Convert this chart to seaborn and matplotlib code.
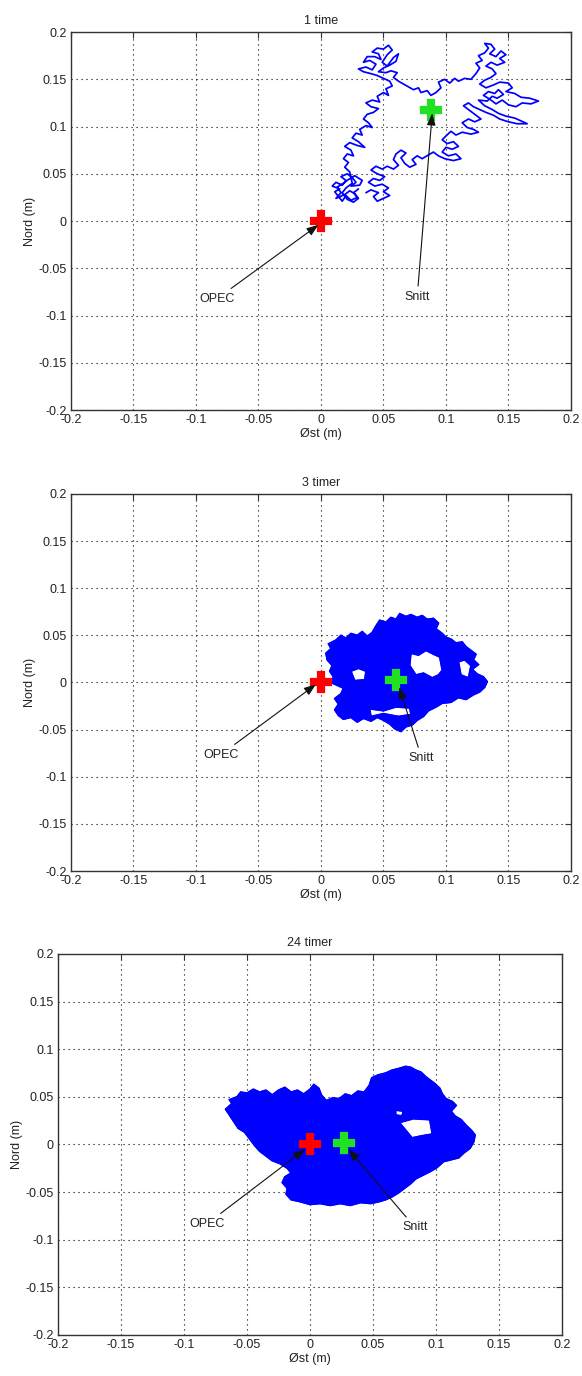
import numpy as np
import pandas as pd
import matplotlib
matplotlib.use('Agg')
import matplotlib.pyplot as plt
import seaborn as sns
from matplotlib.path import Path
from matplotlib.patches import PathPatch

sns.set_style('white')
plt.rcParams['font.family'] = ['Liberation Sans', 'DejaVu Sans']

# ---------------- data ----------------
titles = ['1 time', '3 timer', '24 timer']
tick_values = [-0.2, -0.15, -0.1, -0.05, 0, 0.05, 0.1, 0.15, 0.2]
tick_labels = ['-0.2', '-0.15', '-0.1', '-0.05', '0', '0.05', '0.1', '0.15', '0.2']
x_label = 'Øst (m)'
y_label = 'Nord (m)'

# Panel 1 (1 time): position trace, read as (east, north) points
trace1_points = [
    # lower-left cluster
    (0.030, 0.034), (0.026, 0.030), (0.029, 0.025), (0.024, 0.022), (0.020, 0.027), (0.017, 0.021),
    (0.014, 0.026), (0.011, 0.031), (0.015, 0.034), (0.009, 0.037), (0.012, 0.041), (0.017, 0.038),
    (0.020, 0.043), (0.016, 0.047), (0.021, 0.050), (0.025, 0.046), (0.028, 0.041), (0.024, 0.037),
    (0.031, 0.038), (0.033, 0.043), (0.027, 0.048), (0.022, 0.044), (0.018, 0.040), (0.013, 0.036),
    (0.016, 0.030), (0.012, 0.024), (0.019, 0.028), (0.023, 0.032), (0.027, 0.029), (0.030, 0.024),
    (0.026, 0.020), (0.021, 0.023), (0.017, 0.030), (0.020, 0.035), (0.025, 0.040), (0.023, 0.052),
    (0.019, 0.057),
    # left arm going north
    (0.022, 0.062), (0.018, 0.066), (0.021, 0.071), (0.026, 0.069), (0.024, 0.075), (0.019, 0.079),
    (0.023, 0.083), (0.029, 0.080), (0.035, 0.078), (0.030, 0.084), (0.025, 0.088), (0.028, 0.093),
    (0.033, 0.091), (0.031, 0.097), (0.036, 0.101), (0.041, 0.099), (0.038, 0.104), (0.034, 0.108),
    (0.037, 0.113), (0.042, 0.115), (0.046, 0.119), (0.040, 0.121), (0.036, 0.125), (0.041, 0.128),
    (0.047, 0.126), (0.045, 0.132), (0.050, 0.136), (0.054, 0.133), (0.052, 0.140), (0.057, 0.143),
    (0.055, 0.148), (0.050, 0.151),
    # upper-left cluster
    (0.045, 0.154), (0.040, 0.156), (0.034, 0.158), (0.030, 0.161), (0.036, 0.163), (0.041, 0.160),
    (0.044, 0.166), (0.039, 0.170), (0.034, 0.168), (0.037, 0.174), (0.043, 0.174), (0.048, 0.171),
    (0.046, 0.177), (0.041, 0.179), (0.045, 0.183), (0.050, 0.182), (0.054, 0.186), (0.057, 0.181),
    (0.053, 0.176), (0.049, 0.168), (0.053, 0.164), (0.058, 0.173), (0.062, 0.177), (0.060, 0.169),
    (0.055, 0.165), (0.050, 0.162), (0.046, 0.158), (0.052, 0.157), (0.056, 0.159), (0.061, 0.157),
    (0.058, 0.152), (0.062, 0.148),
    # eastward along the top
    (0.066, 0.145), (0.070, 0.142), (0.074, 0.139), (0.078, 0.141), (0.080, 0.136), (0.085, 0.138),
    (0.088, 0.133), (0.092, 0.136), (0.096, 0.141), (0.094, 0.147), (0.099, 0.150), (0.103, 0.146),
    (0.107, 0.151), (0.110, 0.148), (0.115, 0.151), (0.120, 0.150),
    # upper-right cluster
    (0.124, 0.156), (0.127, 0.162), (0.124, 0.167), (0.129, 0.170), (0.126, 0.175), (0.131, 0.178),
    (0.134, 0.183), (0.131, 0.188), (0.136, 0.187), (0.139, 0.182), (0.135, 0.177), (0.140, 0.174),
    (0.144, 0.180), (0.148, 0.176), (0.143, 0.172), (0.147, 0.168), (0.141, 0.165), (0.136, 0.168),
    (0.132, 0.164), (0.137, 0.161), (0.140, 0.156),
    # large right cluster
    (0.136, 0.152), (0.131, 0.149), (0.127, 0.145), (0.132, 0.141), (0.138, 0.144), (0.143, 0.147),
    (0.150, 0.146), (0.153, 0.141), (0.148, 0.137), (0.155, 0.135), (0.160, 0.131), (0.167, 0.130),
    (0.174, 0.127), (0.168, 0.124), (0.161, 0.125), (0.156, 0.121), (0.150, 0.123), (0.145, 0.128),
    (0.140, 0.124), (0.135, 0.129), (0.130, 0.133), (0.134, 0.137), (0.139, 0.135), (0.142, 0.139),
    (0.146, 0.134), (0.141, 0.130), (0.137, 0.132), (0.133, 0.127), (0.126, 0.128), (0.131, 0.122),
    (0.137, 0.118), (0.142, 0.114), (0.148, 0.111), (0.155, 0.109), (0.160, 0.106), (0.165, 0.103),
    (0.157, 0.103), (0.150, 0.105), (0.143, 0.108), (0.138, 0.112), (0.132, 0.115), (0.127, 0.118),
    (0.122, 0.121), (0.118, 0.125), (0.114, 0.122), (0.119, 0.117), (0.124, 0.112), (0.128, 0.108),
    (0.123, 0.105), (0.118, 0.108), (0.113, 0.104), (0.117, 0.099), (0.122, 0.097), (0.126, 0.094),
    (0.120, 0.092), (0.113, 0.094),
    # southward
    (0.108, 0.091), (0.104, 0.095), (0.100, 0.090), (0.097, 0.086), (0.101, 0.082), (0.106, 0.084),
    (0.110, 0.079), (0.105, 0.076), (0.100, 0.078), (0.097, 0.073), (0.102, 0.069), (0.108, 0.071),
    (0.112, 0.066), (0.106, 0.064), (0.099, 0.066), (0.094, 0.069), (0.090, 0.073), (0.086, 0.070),
    # middle cluster
    (0.081, 0.066), (0.077, 0.069), (0.073, 0.065), (0.076, 0.060), (0.071, 0.057), (0.067, 0.061),
    (0.064, 0.067), (0.068, 0.072), (0.064, 0.075), (0.060, 0.071), (0.058, 0.065), (0.062, 0.059),
    (0.058, 0.055),
    # lower-middle cluster
    (0.053, 0.058), (0.049, 0.055), (0.044, 0.058), (0.040, 0.054), (0.045, 0.050), (0.051, 0.047),
    (0.047, 0.043), (0.042, 0.045), (0.038, 0.041), (0.043, 0.037), (0.049, 0.039), (0.054, 0.035),
    (0.050, 0.031), (0.055, 0.027), (0.050, 0.024), (0.045, 0.021), (0.042, 0.026), (0.046, 0.030),
    (0.040, 0.033), (0.036, 0.030),
]

# Panel 2 (3 timer): outline of the dense region and its open areas
blob2_points = [
    (0.004, 0.031), (0.008, 0.036), (0.006, 0.041), (0.012, 0.045), (0.016, 0.050), (0.020, 0.047),
    (0.024, 0.052), (0.029, 0.050), (0.033, 0.054), (0.037, 0.049), (0.041, 0.053), (0.044, 0.060),
    (0.047, 0.066), (0.052, 0.064), (0.056, 0.069), (0.060, 0.067), (0.063, 0.073), (0.068, 0.070),
    (0.072, 0.072), (0.077, 0.069), (0.081, 0.071), (0.085, 0.067), (0.090, 0.068), (0.094, 0.063),
    (0.092, 0.057), (0.097, 0.052), (0.100, 0.048), (0.104, 0.046), (0.108, 0.042), (0.113, 0.043),
    (0.116, 0.038), (0.120, 0.034), (0.124, 0.030), (0.122, 0.024), (0.126, 0.019), (0.121, 0.014),
    (0.125, 0.009), (0.130, 0.006), (0.133, 0.001), (0.131, -0.005), (0.127, -0.010), (0.122, -0.013),
    (0.116, -0.018), (0.110, -0.016), (0.104, -0.021), (0.097, -0.022), (0.092, -0.026), (0.086, -0.030),
    (0.082, -0.036), (0.077, -0.040), (0.073, -0.045), (0.068, -0.047), (0.064, -0.052), (0.059, -0.049),
    (0.055, -0.044), (0.050, -0.040), (0.045, -0.037), (0.040, -0.041), (0.034, -0.038), (0.029, -0.042),
    (0.024, -0.037), (0.018, -0.039), (0.014, -0.035), (0.011, -0.029), (0.014, -0.023), (0.011, -0.017),
    (0.016, -0.012), (0.018, -0.006), (0.013, -0.003), (0.008, 0.000), (0.010, 0.006), (0.007, 0.012),
    (0.009, 0.018), (0.005, 0.024),
]
holes2 = [
    [(0.072, 0.031), (0.078, 0.029), (0.084, 0.034), (0.090, 0.030), (0.095, 0.027), (0.097, 0.013),
     (0.094, 0.008), (0.089, 0.005), (0.082, 0.010), (0.076, 0.008), (0.071, 0.018)],
    [(0.110, 0.022), (0.115, 0.024), (0.120, 0.018), (0.118, 0.005), (0.112, 0.008)],
    [(0.039, -0.028), (0.050, -0.030), (0.060, -0.026), (0.071, -0.027), (0.072, -0.034),
     (0.062, -0.036), (0.050, -0.033), (0.040, -0.036)],
    [(0.024, 0.012), (0.030, 0.015), (0.036, 0.012), (0.035, 0.003), (0.027, 0.002)],
]

# Panel 3 (24 timer): outline of the dense region and its open areas
blob3_points = [
    (-0.067, 0.037), (-0.062, 0.043), (-0.064, 0.047), (-0.058, 0.050), (-0.055, 0.055), (-0.050, 0.054),
    (-0.045, 0.058), (-0.040, 0.055), (-0.035, 0.057), (-0.030, 0.052), (-0.025, 0.057), (-0.020, 0.060),
    (-0.015, 0.055), (-0.010, 0.057), (-0.005, 0.053), (0.000, 0.058), (0.003, 0.063), (0.007, 0.059),
    (0.009, 0.052), (0.013, 0.046), (0.018, 0.049), (0.023, 0.048), (0.028, 0.053), (0.033, 0.051),
    (0.038, 0.056), (0.043, 0.055), (0.047, 0.062), (0.049, 0.070), (0.054, 0.073), (0.060, 0.075),
    (0.065, 0.078), (0.071, 0.080), (0.076, 0.082), (0.080, 0.081), (0.084, 0.078), (0.088, 0.076),
    (0.092, 0.071), (0.095, 0.068), (0.099, 0.064), (0.103, 0.059), (0.105, 0.053), (0.108, 0.048),
    (0.113, 0.045), (0.116, 0.041), (0.112, 0.035), (0.115, 0.030), (0.120, 0.026), (0.124, 0.020),
    (0.128, 0.015), (0.131, 0.010), (0.130, 0.003), (0.127, -0.004), (0.122, -0.009), (0.118, -0.014),
    (0.112, -0.016), (0.106, -0.018), (0.101, -0.024), (0.096, -0.028), (0.090, -0.032), (0.084, -0.036),
    (0.080, -0.041), (0.075, -0.046), (0.070, -0.051), (0.065, -0.055), (0.060, -0.058), (0.055, -0.060),
    (0.048, -0.062), (0.040, -0.061), (0.032, -0.064), (0.024, -0.062), (0.016, -0.064), (0.008, -0.062),
    (0.000, -0.063), (-0.008, -0.060), (-0.015, -0.058), (-0.019, -0.052), (-0.018, -0.046), (-0.022, -0.040),
    (-0.020, -0.034), (-0.015, -0.030), (-0.018, -0.025), (-0.024, -0.020), (-0.030, -0.017), (-0.035, -0.012),
    (-0.040, -0.007), (-0.044, -0.001), (-0.048, 0.006), (-0.052, 0.013), (-0.057, 0.017), (-0.060, 0.023),
    (-0.063, 0.029),
]
holes3 = [
    [(0.071, 0.023), (0.082, 0.027), (0.095, 0.026), (0.097, 0.011), (0.088, 0.009), (0.081, 0.007)],
    [(0.068, 0.036), (0.074, 0.035), (0.073, 0.030), (0.068, 0.031)],
]

# Reference points (OPEC origin and mean position "Snitt") and their labels
opec_xy = (0.0, 0.0)
snitt_xy = [(0.088, 0.1175), (0.060, 0.003), (0.027, 0.002)]
opec_tip = [(-0.002, -0.004), (-0.004, -0.002), (-0.004, -0.005)]
snitt_tip = [(0.089, 0.114), (0.0626, -0.005), (0.0304, -0.005)]
opec_text = [(-0.083, -0.082), (-0.080, -0.0764), (-0.0815, -0.083)]
snitt_text = [(0.077, -0.080), (0.0805, -0.080), (0.0833, -0.087)]

# ---------------- figure ----------------
fig = plt.figure(figsize=(5.82, 13.76), dpi=100)
positions = [[0.122, 0.702, 0.859, 0.2747],
             [0.122, 0.367, 0.859, 0.274],
             [0.0997, 0.0298, 0.866, 0.2769]]
axes = [fig.add_axes(p) for p in positions]

BLUE = '#0000ff'
RED = '#ff0000'
GREEN = '#22e022'
FS = 9


def signed_area(pts):
    n = len(pts)
    return 0.5 * sum(pts[i][0] * pts[(i + 1) % n][1] - pts[(i + 1) % n][0] * pts[i][1] for i in range(n))


def blob_patch(ax, outer, holes, lw=1.2):
    rings = [outer if signed_area(outer) > 0 else outer[::-1]]
    for h in holes:
        rings.append(h if signed_area(h) < 0 else h[::-1])
    verts, codes = [], []
    for r in rings:
        verts += list(r) + [r[0]]
        codes += [Path.MOVETO] + [Path.LINETO] * (len(r) - 1) + [Path.CLOSEPOLY]
    ax.add_patch(PathPatch(Path(verts, codes), facecolor=BLUE, edgecolor=BLUE, lw=lw, zorder=2))


for i, ax in enumerate(axes):
    ax.set_xlim(-0.2, 0.2)
    ax.set_ylim(-0.2, 0.2)
    ax.set_xticks(tick_values)
    ax.set_yticks(tick_values)
    ax.set_xticklabels(tick_labels, fontsize=FS)
    ax.set_yticklabels(tick_labels, fontsize=FS)
    ax.grid(True, color='black', linestyle=(0, (1, 3.5)), linewidth=0.8)
    ax.set_axisbelow(True)
    ax.tick_params(direction='in', top=True, right=True, length=4, width=0.8,
                   color='#333333', pad=3, labelcolor='#222222')
    for s in ax.spines.values():
        s.set_color('#333333')
        s.set_linewidth(1.0)
    ax.set_title(titles[i], fontsize=FS, pad=6, color='#222222')

# traces
df1 = pd.DataFrame(trace1_points, columns=['x', 'y'])
sns.lineplot(data=df1, x='x', y='y', sort=False, estimator=None, ax=axes[0],
             color=BLUE, linewidth=1.25, zorder=2)

for ax, outer, holes in [(axes[1], blob2_points, holes2), (axes[2], blob3_points, holes3)]:
    blob_patch(ax, outer, holes)
    d = pd.DataFrame(outer + outer[:1], columns=['x', 'y'])
    sns.lineplot(data=d, x='x', y='y', sort=False, estimator=None, ax=ax,
                 color=BLUE, linewidth=1.0, zorder=2)
    for h in holes:
        dh = pd.DataFrame(h + h[:1], columns=['x', 'y'])
        sns.lineplot(data=dh, x='x', y='y', sort=False, estimator=None, ax=ax,
                     color=BLUE, linewidth=0.8, zorder=2)

for i, ax in enumerate(axes):
    ax.set_xlabel(x_label, fontsize=FS, labelpad=1, color='#222222')
    ax.set_ylabel(y_label, fontsize=FS, labelpad=2, color='#222222')
    ax.plot([opec_xy[0]], [opec_xy[1]], marker='P', markersize=15, color=RED,
            markeredgecolor=RED, markeredgewidth=1.6, linestyle='none', zorder=4)
    ax.plot([snitt_xy[i][0]], [snitt_xy[i][1]], marker='P', markersize=15, color=GREEN,
            markeredgecolor=GREEN, markeredgewidth=1.6, linestyle='none', zorder=4)
    arrow = dict(arrowstyle='-|>,head_length=0.6,head_width=0.22', color='#111111',
                 lw=0.8, mutation_scale=12, shrinkA=1, shrinkB=0)
    ax.annotate('OPEC', xy=opec_tip[i], xytext=opec_text[i], ha='center', va='center',
                fontsize=FS, color='#222222', arrowprops=arrow, zorder=5)
    ax.annotate('Snitt', xy=snitt_tip[i], xytext=snitt_text[i], ha='center', va='center',
                fontsize=FS, color='#222222', arrowprops=arrow, zorder=5)
    if ax.get_legend() is not None:
        ax.get_legend().remove()

fig.savefig('out.png', dpi=100)
